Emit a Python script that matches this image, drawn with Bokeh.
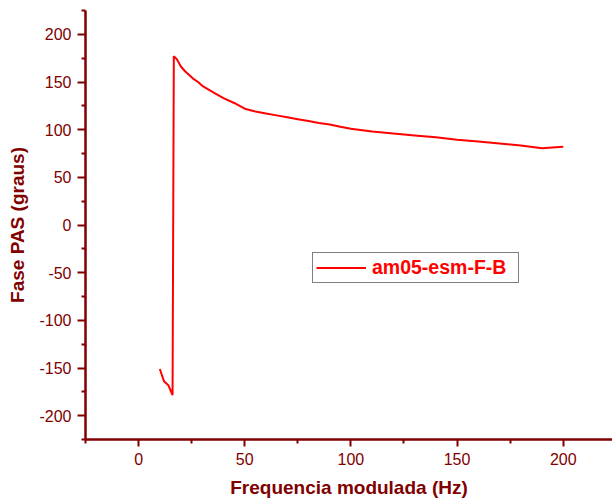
from bokeh.plotting import figure
from bokeh.models import Range1d, Legend, LegendItem, FixedTicker, CustomJSTickFormatter
from bokeh.embed import file_html
from bokeh.resources import INLINE

freq = [10, 12, 14, 16, 16.6, 18, 20, 22, 24, 26, 28, 30, 33, 36, 40, 45, 50, 55, 60,
        65, 70, 75, 80, 85, 90, 95, 100, 110, 120, 130, 140, 150, 160, 170, 180, 190, 200]
fase = [-151, -164, -168, -178.5, 177, 174, 166, 161, 157, 153, 150, 146, 142, 138, 133,
        128, 122, 119, 117, 115, 113, 111, 109, 107, 105.5, 103, 101, 98, 96, 94, 92,
        89.5, 87.5, 85.5, 83.5, 80.5, 82]
series_name = "am05-esm-F-B"
x_ticks = [0, 50, 100, 150, 200]
y_ticks = [-200, -150, -100, -50, 0, 50, 100, 150, 200]

WINE = "#800000"

p = figure(width=612, height=500, output_backend="svg", toolbar_location=None,
           x_range=Range1d(-25, 223.2), y_range=Range1d(-225, 225),
           min_border_left=85, min_border_right=0, min_border_top=10, min_border_bottom=60)
p.outline_line_color = None
p.grid.grid_line_color = None
p.background_fill_color = "white"

r = p.line(freq, fase, line_color="#FF0000", line_width=2)

fmt = CustomJSTickFormatter(code="return tick.toFixed(0);")
for ax in (p.xaxis[0], p.yaxis[0]):
    ax.formatter = fmt
    ax.axis_line_color = WINE
    ax.axis_line_width = 2.5
    ax.major_tick_line_color = WINE
    ax.minor_tick_line_color = WINE
    ax.major_tick_line_width = 2
    ax.minor_tick_line_width = 2
    ax.major_tick_in = 0
    ax.minor_tick_in = 0
    ax.major_label_text_color = WINE
    ax.major_label_text_font = "Liberation Sans"
    ax.major_label_text_font_size = "16px"
    ax.axis_label_text_color = WINE
    ax.axis_label_text_font = "Liberation Sans"
    ax.axis_label_text_font_style = "bold"
    ax.axis_label_text_font_size = "19px"

p.xaxis.ticker = FixedTicker(ticks=x_ticks, minor_ticks=[-25, 25, 75, 125, 175, 225])
p.yaxis.ticker = FixedTicker(ticks=y_ticks, minor_ticks=[-225, -175, -125, -75, -25, 25, 75, 125, 175, 225])
p.xaxis.major_tick_out = 7
p.xaxis.minor_tick_out = 4
p.yaxis.major_tick_out = 8
p.yaxis.minor_tick_out = 4
p.xaxis.major_label_standoff = 6
p.yaxis.major_label_standoff = 6
p.xaxis.axis_label = "Frequencia modulada (Hz)"
p.yaxis.axis_label = "Fase PAS (graus)"
p.xaxis.axis_label_standoff = 9
p.yaxis.axis_label_standoff = 8

legend = Legend(items=[LegendItem(label=series_name, renderers=[r])],
                location=(227, 156), border_line_color="black", border_line_width=1,
                label_text_color="#FF0000", label_text_font="Liberation Sans",
                label_text_font_style="bold", label_text_font_size="19.5px",
                glyph_width=50, glyph_height=19, label_height=19, label_width=143,
                label_standoff=6, padding=3, margin=0, spacing=0,
                background_fill_alpha=1)
p.add_layout(legend, "center")

open("out.html", "w").write(file_html(p, INLINE))
